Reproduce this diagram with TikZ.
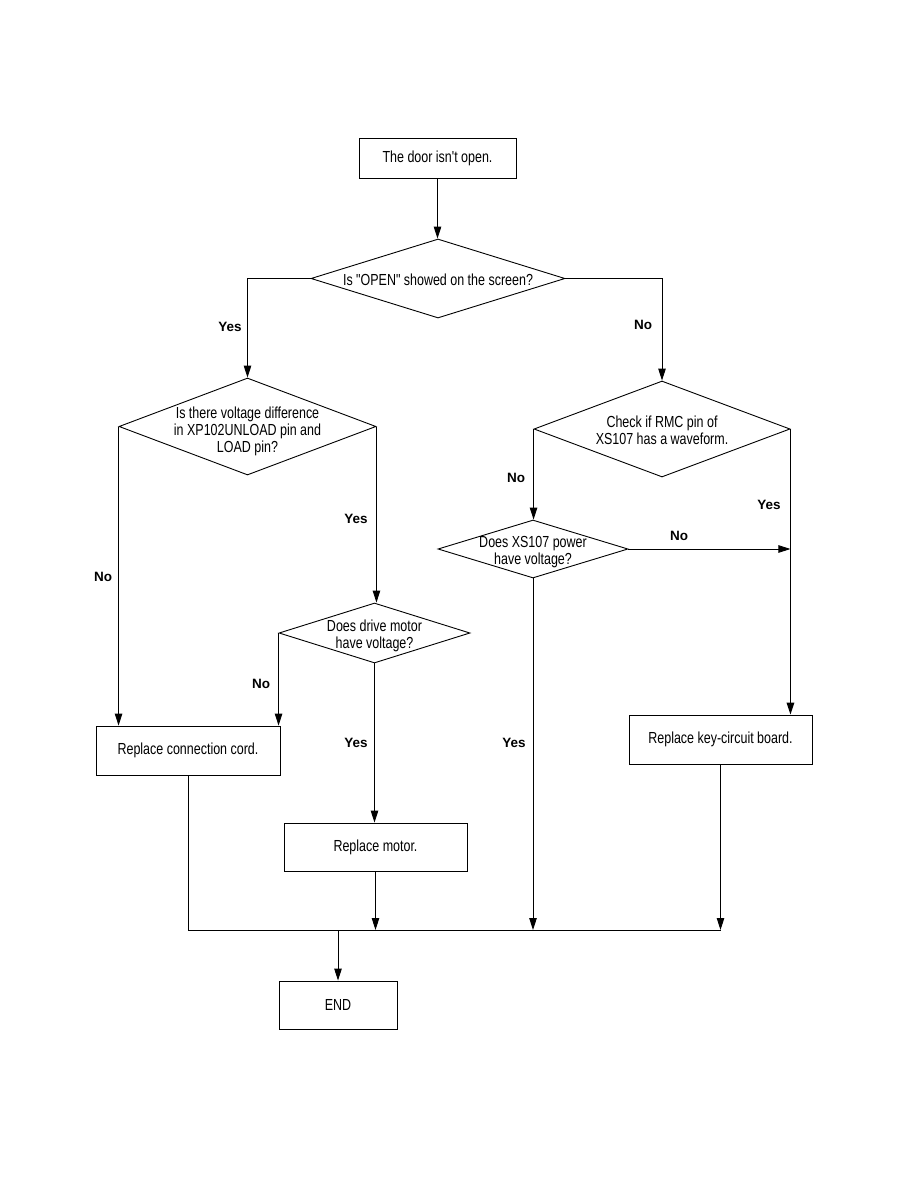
\documentclass[tikz,border=0pt]{standalone}
\usepackage{fontspec}
\setmainfont{Liberation Sans}
\newfontfamily\condfont{Liberation Sans}[FakeStretch=0.78]
\usetikzlibrary{shapes.geometric,arrows.meta}
\tikzset{
  every picture/.style={line width=0.9pt},
  arr/.style={-{Triangle[length=12pt,width=7.5pt]}},
  box/.style={draw, rectangle, inner sep=0pt, font=\condfont\fontsize{16}{17}\selectfont, align=center},
  dia/.style={draw, diamond, inner sep=0pt},
  dtext/.style={font=\condfont\fontsize{16}{17}\selectfont, align=center, inner sep=0pt},
  yn/.style={font=\bfseries\fontsize{13.5}{16}\selectfont, inner sep=0pt},
}
\begin{document}
\begin{tikzpicture}[x=1pt,y=-1pt]
\useasboundingbox (0,0) rectangle (918,1188);
% boxes
\node[box, minimum width=157pt, minimum height=40pt] (start) at (437.5,158) {The door isn't open.};
\node[box, minimum width=184pt, minimum height=49pt] (cord) at (188,750.5) {Replace connection cord.};
\node[box, minimum width=183pt, minimum height=48pt] (motor) at (375.5,847) {Replace motor.};
\node[box, minimum width=183pt, minimum height=49pt] (key) at (720.5,739.5) {Replace key-circuit board.};
\node[box, minimum width=118pt, minimum height=48pt] (end) at (338,1005) {END};
% diamonds
\node[dia, minimum width=254pt, minimum height=79pt] (d1) at (438,278.5) {};
\node[dtext] (d1t) at (438,280) {Is "OPEN" showed on the screen?};
\node[dia, minimum width=257pt, minimum height=97pt] (d2) at (247.5,426.5) {};
\node[dtext] (d2t) at (247.5,431) {Is there voltage difference\\in XP102UNLOAD pin and\\LOAD pin?};
\node[dia, minimum width=256pt, minimum height=96pt] (d3) at (662,429) {};
\node[dtext] (d3t) at (662,430) {Check if RMC pin of\\XS107 has a waveform.};
\node[dia, minimum width=191pt, minimum height=60pt] (d4) at (374.5,633) {};
\node[dtext] (d4t) at (374.5,636) {Does drive motor\\have voltage?};
\node[dia, minimum width=190pt, minimum height=58pt] (d5) at (533,549) {};
\node[dtext] (d5t) at (533,552) {Does XS107 power\\have voltage?};
% junction coordinates
\coordinate (jl) at (188,930);
\coordinate (jr) at (720.5,930);
\coordinate (jm) at (338,930);
% connectors
\draw[arr] (start.south) -- (start.south |- d1.north);
\draw[arr] (d1.west) -| (d2.north);
\draw[arr] (d1.east) -| (d3.north);
\draw[arr] (d2.west) -- (d2.west |- cord.north);
\draw[arr] (d2.east) -- (d2.east |- d4.north);
\draw[arr] (d4.west) -- (d4.west |- cord.north);
\draw[arr] (d4.south) -- (d4.south |- motor.north);
\draw[arr] (d3.west) -- (d3.west |- d5.north);
\draw[arr, line width=1.6pt] (d3.east) -- (d3.east |- key.north);
\draw[arr] (d5.east) -- (d3.east |- d5.east);
\draw[arr] (d5.south) -- (d5.south |- jl);
\draw (cord.south) -- (jl);
\draw[arr] (motor.south) -- (motor.south |- jl);
\draw[arr] (key.south) -- (jr);
\draw (jl) -- (jr);
\draw[arr] (jm) -- (end.north);
% labels
\node[yn] (l1) at (230,327) {Yes};
\node[yn] (l2) at (643,325) {No};
\node[yn] (l3) at (103,577) {No};
\node[yn] (l4) at (356,519) {Yes};
\node[yn] (l5) at (261,684) {No};
\node[yn] (l6) at (356,743) {Yes};
\node[yn] (l7) at (516,478) {No};
\node[yn] (l8) at (769,505) {Yes};
\node[yn] (l9) at (679,536) {No};
\node[yn] (l10) at (514,743) {Yes};
\end{tikzpicture}
\end{document}
